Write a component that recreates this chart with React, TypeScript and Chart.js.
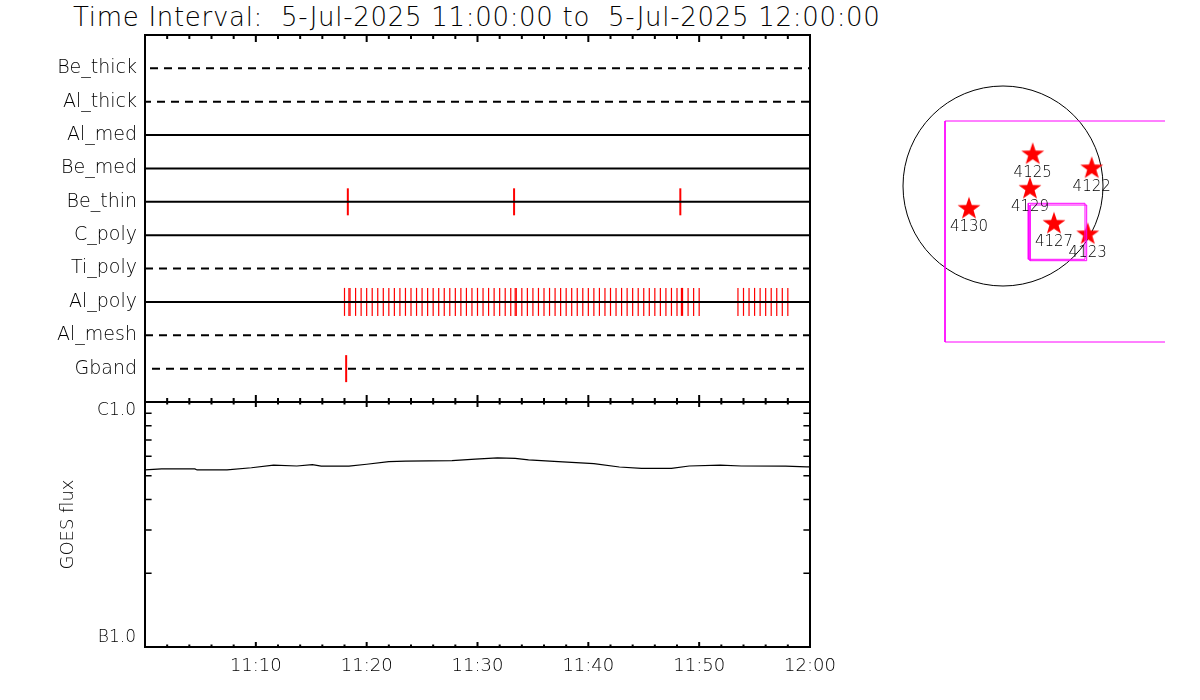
import React, { useEffect, useRef } from 'react';
import { Chart, registerables } from 'chart.js';

Chart.register(...registerables);

// ---------------- data ----------------
const titleText = 'Time Interval:  5-Jul-2025 11:00:00 to  5-Jul-2025 12:00:00';

const detectorNames = ['Be_thick', 'Al_thick', 'Al_med', 'Be_med', 'Be_thin', 'C_poly', 'Ti_poly', 'Al_poly', 'Al_mesh', 'Gband'];
const detectorDashed = [true, true, false, false, false, false, true, false, true, true];

// minutes after 11:00
const beThinTimes = [18.3, 33.3, 48.3];
const alPolyTimes = [
  18, 18.5, 19, 19.5, 20, 20.5, 21, 21.5, 22, 22.5, 23, 23.5, 24, 24.5, 25, 25.5, 26, 26.5, 27, 27.5,
  28, 28.5, 29, 29.5, 30, 30.5, 31, 31.5, 32, 32.5, 33, 33.5, 34, 34.5, 35, 35.5, 36, 36.5, 37, 37.5,
  38, 38.5, 39, 39.5, 40, 40.5, 41, 41.5, 42, 42.5, 43, 43.5, 44, 44.5, 45, 45.5, 46, 46.5, 47, 47.5,
  48, 48.5, 49, 49.5, 50,
  53.5, 54, 54.5, 55, 55.5, 56, 56.5, 57, 57.5, 58,
];
const alPolyExtraTimes = [18.4, 33.4, 48.4];
const gbandTimes = [18.15];

const goesMinutes = [0, 1.5, 4.5, 4.7, 7.4, 9.6, 11.6, 13.7, 15.1, 15.9, 18.4, 20.0, 22.0, 23.5, 27.7, 29.8, 31.8, 33.4, 34.6, 37.3, 40.5, 42.8, 44.8, 47.5, 49.1, 51.9, 53.8, 57.8, 59.7, 60];
const goesFlux = [5.28e-7, 5.33e-7, 5.33e-7, 5.28e-7, 5.28e-7, 5.39e-7, 5.52e-7, 5.48e-7, 5.55e-7, 5.47e-7, 5.47e-7, 5.57e-7, 5.71e-7, 5.74e-7, 5.76e-7, 5.85e-7, 5.91e-7, 5.89e-7, 5.80e-7, 5.71e-7, 5.60e-7, 5.43e-7, 5.36e-7, 5.36e-7, 5.48e-7, 5.52e-7, 5.48e-7, 5.47e-7, 5.43e-7, 5.43e-7];

const xMajorTicks = [0, 10, 20, 30, 40, 50, 60];
const xMinorTicks = [2, 4, 6, 8, 12, 14, 16, 18, 22, 24, 26, 28, 32, 34, 36, 38, 42, 44, 46, 48, 52, 54, 56, 58];
const xLabelMinutes = [10, 20, 30, 40, 50, 60];
const xTickLabels = ['11:10', '11:20', '11:30', '11:40', '11:50', '12:00'];
const goesMinorTicks = [2e-7, 3e-7, 4e-7, 5e-7, 6e-7, 7e-7, 8e-7, 9e-7];
const goesLowLabel = 'B1.0';
const goesHighLabel = 'C1.0';
const goesAxisTitle = 'GOES flux';

// right panel (arcsec-like units)
const regionIds = ['4125', '4122', '4129', '4130', '4127', '4123'];
const regionX = [297, 887, 270, -340, 510, 847];
const regionY = [327, 187, -17, -217, -367, -473];
const limbRadius = 1000;
const fovX = [-580, 1700];
const fovY = [-1560, 650];
const boxAX = [253, 820];
const boxAY = [-733, -173];
const boxBX = [270, 837];
const boxBY = [-747, -190];

// ---------------- helpers ----------------
const FONT = 'DejaVu Sans';
const LIGHT = 200 as any;

function rectPoints(xs: number[], ys: number[]) {
  return [
    { x: xs[0], y: ys[0] },
    { x: xs[1], y: ys[0] },
    { x: xs[1], y: ys[1] },
    { x: xs[0], y: ys[1] },
    { x: xs[0], y: ys[0] },
  ];
}

function makeFramePlugin(cfg: {
  top?: [number, number];
  bottom?: [number, number];
  yTicks?: number[];
  yLen?: number;
}) {
  return {
    id: 'frameTicks',
    afterDatasetsDraw(chart: any) {
      const { ctx, chartArea: a, scales } = chart;
      ctx.save();
      ctx.strokeStyle = '#000';
      ctx.lineWidth = 2;
      ctx.strokeRect(a.left, a.top, a.right - a.left, a.bottom - a.top);
      const xs = scales.x;
      ctx.beginPath();
      const addX = (vals: number[], len: number, edge: 'top' | 'bottom') => {
        vals.forEach((v) => {
          const px = xs.getPixelForValue(v);
          if (edge === 'top') {
            ctx.moveTo(px, a.top);
            ctx.lineTo(px, a.top + len);
          } else {
            ctx.moveTo(px, a.bottom);
            ctx.lineTo(px, a.bottom - len);
          }
        });
      };
      if (cfg.top) {
        addX(xMajorTicks, cfg.top[0], 'top');
        addX(xMinorTicks, cfg.top[1], 'top');
      }
      if (cfg.bottom) {
        addX(xMajorTicks, cfg.bottom[0], 'bottom');
        addX(xMinorTicks, cfg.bottom[1], 'bottom');
      }
      ctx.stroke();
      if (cfg.yTicks) {
        const ys = scales.y;
        ctx.lineWidth = 1.5;
        ctx.beginPath();
        cfg.yTicks.forEach((v) => {
          const py = ys.getPixelForValue(v);
          ctx.moveTo(a.left, py);
          ctx.lineTo(a.left + (cfg.yLen || 6), py);
          ctx.moveTo(a.right, py);
          ctx.lineTo(a.right - (cfg.yLen || 6), py);
        });
        ctx.stroke();
      }
      ctx.restore();
    },
  };
}

function makeStarImage() {
  const c = document.createElement('canvas');
  c.width = 26;
  c.height = 26;
  const g = c.getContext('2d')!;
  const cx = 13, cy = 14.1, R = 12, r = 4.8;
  g.beginPath();
  for (let i = 0; i < 10; i++) {
    const ang = -Math.PI / 2 + (i * Math.PI) / 5;
    const rad = i % 2 === 0 ? R : r;
    const px = cx + rad * Math.cos(ang);
    const py = cy + rad * Math.sin(ang);
    if (i === 0) g.moveTo(px, py);
    else g.lineTo(px, py);
  }
  g.closePath();
  g.fillStyle = '#ff0000';
  g.fill();
  return c;
}

function tickDataset(times: number[], row: number, width: number, radius: number) {
  return {
    type: 'scatter' as const,
    data: times.map((t) => ({ x: t, y: row })),
    showLine: false,
    pointStyle: 'line',
    pointRotation: 90,
    pointRadius: radius,
    pointHoverRadius: radius,
    pointBorderColor: '#ff0000',
    pointBorderWidth: width,
    borderColor: '#ff0000',
  };
}

// ---------------- charts ----------------
function makeDetectorChart(canvas: HTMLCanvasElement) {
  const dashOffsets: Record<string, number> = { Be_thick: 9, Al_thick: 2, Ti_poly: 0, Al_mesh: 0, Gband: 7 };
  const rowSets = detectorNames.map((name, i) => ({
    type: 'line' as const,
    data: [
      { x: 0, y: i + 1 },
      { x: 60, y: i + 1 },
    ],
    borderColor: '#000',
    borderWidth: 2,
    borderDash: detectorDashed[i] ? [8, 6] : [],
    borderDashOffset: dashOffsets[name] || 0,
    pointRadius: 0,
    showLine: true,
  }));
  const rowOf = (n: string) => detectorNames.indexOf(n) + 1;
  return new Chart(canvas, {
    type: 'scatter',
    data: {
      datasets: [
        ...rowSets,
        tickDataset(beThinTimes, rowOf('Be_thin'), 2, 13.5),
        tickDataset(alPolyTimes, rowOf('Al_poly'), 1.2, 14),
        tickDataset(alPolyExtraTimes, rowOf('Al_poly'), 1.2, 14),
        tickDataset(gbandTimes, rowOf('Gband'), 2, 13.5),
      ] as any,
    },
    options: {
      animation: false,
      responsive: false,
      events: [],
      layout: { padding: { left: 0, top: 35, right: 390, bottom: 298 } },
      plugins: { legend: { display: false }, tooltip: { enabled: false }, title: { display: false } },
      scales: {
        x: { type: 'linear', min: 0, max: 60, display: false },
        y: {
          type: 'linear',
          min: 0,
          max: 11,
          reverse: true,
          afterFit: (s: any) => {
            s.width = 145;
          },
          afterBuildTicks: (s: any) => {
            s.ticks = detectorNames.map((_, i) => ({ value: i + 1 }));
          },
          ticks: {
            callback: (_v: any, i: number) => detectorNames[i],
            padding: 8,
            autoSkip: false,
            color: '#000',
            font: { family: FONT, size: 19, weight: LIGHT },
          },
          grid: { display: false, drawTicks: false },
          border: { display: false },
        },
      },
    },
    plugins: [makeFramePlugin({ top: [7, 4], bottom: [7, 4] })],
  } as any);
}

function makeGoesChart(canvas: HTMLCanvasElement) {
  const near = (v: number, t: number) => Math.abs(Math.log10(v) - Math.log10(t)) < 0.01;
  return new Chart(canvas, {
    type: 'scatter',
    data: {
      datasets: [
        {
          type: 'line',
          data: goesMinutes.map((m, i) => ({ x: m, y: goesFlux[i] })),
          borderColor: '#000',
          borderWidth: 1.2,
          pointRadius: 0,
          showLine: true,
          tension: 0,
        },
      ] as any,
    },
    options: {
      animation: false,
      responsive: false,
      events: [],
      layout: { padding: { left: 0, top: 402, right: 390, bottom: 0 } },
      plugins: { legend: { display: false }, tooltip: { enabled: false } },
      scales: {
        x: {
          type: 'linear',
          min: 0,
          max: 60,
          position: 'bottom',
          afterFit: (s: any) => {
            s.height = 53;
          },
          afterBuildTicks: (s: any) => {
            s.ticks = xLabelMinutes.map((v) => ({ value: v }));
          },
          ticks: {
            callback: (_v: any, i: number) => xTickLabels[i],
            padding: 9,
            maxRotation: 0,
            autoSkip: false,
            color: '#000',
            font: { family: FONT, size: 18, weight: LIGHT },
          },
          grid: { display: false, drawTicks: false },
          border: { display: false },
        },
        y: {
          type: 'logarithmic',
          min: 1e-7,
          max: 1e-6,
          afterFit: (s: any) => {
            s.width = 145;
          },
          ticks: {
            callback: (v: any) => {
              if (near(v, 1e-7)) return [goesLowLabel, ''];
              if (near(v, 1e-6)) return ['', goesHighLabel];
              return '';
            },
            padding: 9,
            autoSkip: false,
            color: '#000',
            font: { family: FONT, size: 17, weight: LIGHT, lineHeight: 1.05 },
          },
          title: {
            display: true,
            text: goesAxisTitle,
            color: '#000',
            font: { family: FONT, size: 18, weight: LIGHT, lineHeight: 1.2 },
            padding: { top: 58, bottom: 0 },
          },
          grid: { display: false, drawTicks: false },
          border: { display: false },
        },
      },
    },
    plugins: [makeFramePlugin({ top: [5, 2.5], bottom: [5, 2.5], yTicks: goesMinorTicks, yLen: 6.6 })],
  } as any);
}

function makeMapChart(canvas: HTMLCanvasElement) {
  const star = makeStarImage();
  const limbPlugin = {
    id: 'limb',
    beforeDatasetsDraw(chart: any) {
      const { ctx, scales } = chart;
      const cx = scales.x.getPixelForValue(0);
      const cy = scales.y.getPixelForValue(0);
      const r = scales.x.getPixelForValue(limbRadius) - cx;
      ctx.save();
      ctx.strokeStyle = '#000';
      ctx.lineWidth = 1;
      ctx.beginPath();
      ctx.arc(cx, cy, r, 0, Math.PI * 2);
      ctx.stroke();
      ctx.restore();
    },
  };
  const labelPlugin = {
    id: 'regionLabels',
    afterDatasetsDraw(chart: any) {
      const { ctx, scales } = chart;
      ctx.save();
      ctx.fillStyle = '#000';
      ctx.font = `${LIGHT} 15px "${FONT}"`;
      ctx.textAlign = 'center';
      ctx.textBaseline = 'middle';
      regionIds.forEach((id, i) => {
        const px = scales.x.getPixelForValue(regionX[i]);
        const py = scales.y.getPixelForValue(regionY[i]);
        ctx.fillText(id, px, py + 19.5);
      });
      ctx.restore();
    },
  };
  const rectSet = (pts: any[]) => ({
    type: 'line',
    data: pts,
    borderColor: '#ff00ff',
    borderWidth: 1,
    pointRadius: 0,
    showLine: true,
    tension: 0,
  });
  return new Chart(canvas, {
    type: 'scatter',
    data: {
      datasets: [
        rectSet(rectPoints(fovX, fovY)),
        rectSet(rectPoints(boxAX, boxAY)),
        rectSet(rectPoints(boxBX, boxBY)),
        {
          type: 'scatter',
          data: regionX.map((x, i) => ({ x, y: regionY[i] })),
          pointStyle: star,
          pointRadius: 12,
          showLine: false,
        },
      ] as any,
    },
    options: {
      animation: false,
      responsive: false,
      events: [],
      layout: { padding: { left: 880, top: 40, right: 35, bottom: 320 } },
      plugins: { legend: { display: false }, tooltip: { enabled: false } },
      scales: {
        x: { type: 'linear', min: -1230, max: 1620, display: false },
        y: { type: 'linear', min: -1940, max: 1460, display: false },
      },
    },
    plugins: [limbPlugin, labelPlugin],
  } as any);
}

function ChartCanvas({ make }: { make: (c: HTMLCanvasElement) => Chart }) {
  const ref = useRef<HTMLCanvasElement>(null);
  useEffect(() => {
    const ch = make(ref.current!);
    return () => ch.destroy();
  }, []);
  return (
    <canvas
      ref={ref}
      width={1200}
      height={700}
      style={{ position: 'absolute', left: 0, top: 0, width: 1200, height: 700 }}
    />
  );
}

export default function App() {
  return (
    <div style={{ position: 'fixed', left: 0, top: 0, width: 1200, height: 700, background: '#fff', overflow: 'hidden' }}>
      <div
        style={{
          position: 'absolute',
          left: 73,
          top: 4,
          font: `${LIGHT} 26px "${FONT}"`,
          lineHeight: '26px',
          letterSpacing: '0.7px',
          whiteSpace: 'pre',
          color: '#000',
        }}
      >
        {titleText}
      </div>
      <ChartCanvas make={makeDetectorChart} />
      <ChartCanvas make={makeGoesChart} />
      <ChartCanvas make={makeMapChart} />
    </div>
  );
}
